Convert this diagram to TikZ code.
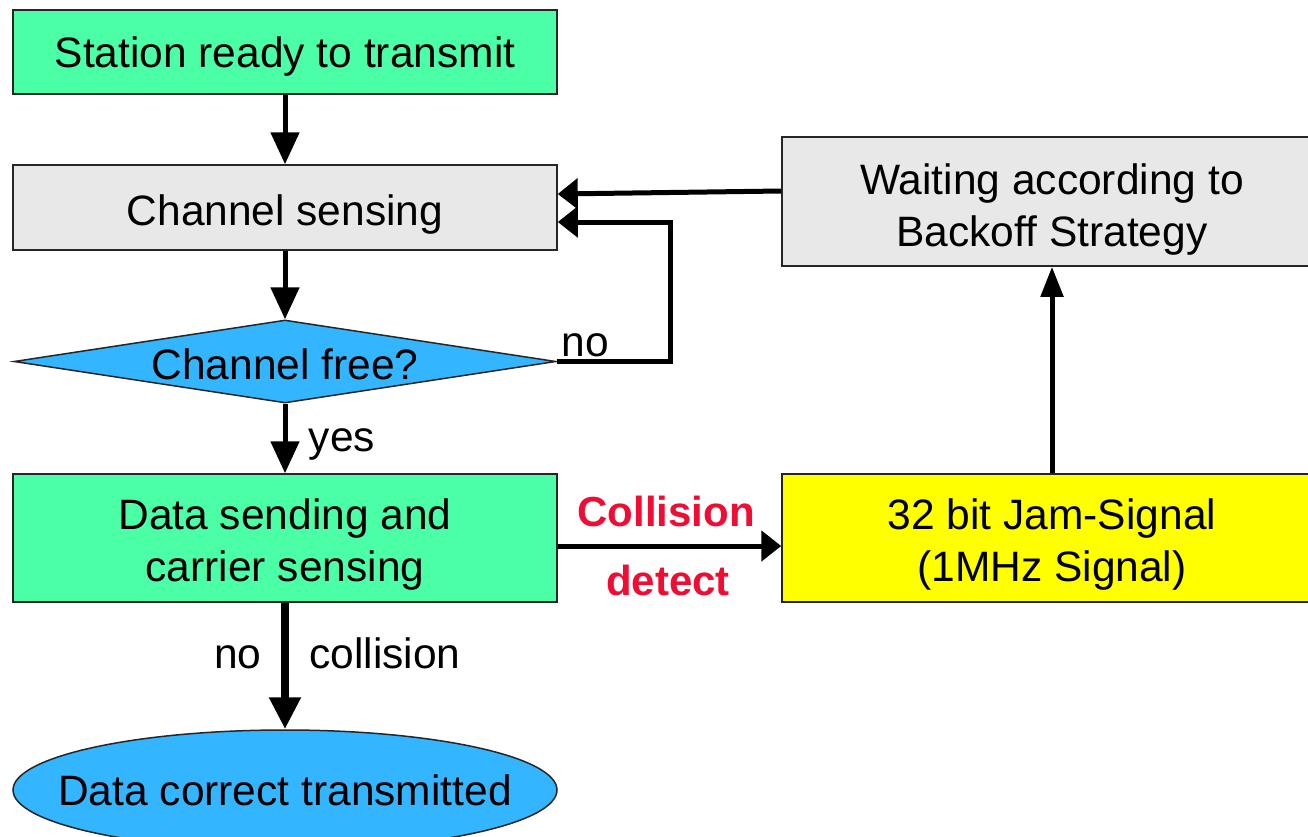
\documentclass[tikz,border=0pt]{standalone}
\usepackage{fontspec}
\setmainfont{Liberation Sans}
\usetikzlibrary{arrows.meta,shapes.geometric}

\definecolor{mint}{RGB}{74,255,165}
\definecolor{panel}{RGB}{232,232,232}
\definecolor{sky}{RGB}{51,181,255}
\definecolor{jam}{RGB}{255,255,0}
\definecolor{alert}{RGB}{240,12,50}

\tikzset{
  txt/.style={font=\fontsize{42.5pt}{52pt}\selectfont, align=center, inner sep=0pt},
  lbl/.style={txt, text height=30pt, text depth=9pt},
  box/.style={draw=black!85, line width=1.5pt, rectangle, inner sep=0pt},
  arr/.style={line width=5pt, -{Triangle[length=32pt,width=28pt]}},
  sidearr/.style={line width=5pt, -{Triangle[length=20pt,width=30pt]}},
  bigarr/.style={line width=8pt, -{Triangle[length=32pt,width=30pt]}},
  warn/.style={txt, font=\fontsize{42pt}{52pt}\selectfont\bfseries, text=alert},
}

\begin{document}
\begin{tikzpicture}[x=1pt,y=-1pt]
\useasboundingbox (0,0) rectangle (1308,836);
\fill[white] (0,0) rectangle (1308,836);
\clip (0,0) rectangle (1308,836);

% left column: shapes
\node[box, fill=mint, minimum width=544, minimum height=84] (station) at (285,52) {};
\node[box, fill=panel, minimum width=544, minimum height=85] (sense) at (285,207.5) {};
\node[diamond, draw=black!85, line width=1.5pt, fill=sky, inner sep=0pt, aspect=6.5,
      minimum width=542, minimum height=83] (free) at (285,361.5) {};
\node[box, fill=mint, minimum width=544, minimum height=128] (data) at (285,538) {};
\node[ellipse, draw=black!85, line width=1.5pt, fill=sky, inner sep=0pt,
      minimum width=544, minimum height=120] (done) at (285,790) {};

% right column: shapes
\node[box, fill=panel, minimum width=540, minimum height=129] (wait) at (1052,201.5) {};
\node[box, fill=jam, minimum width=540, minimum height=128] (jamsig) at (1052,538) {};

% texts inside the shapes
\node[txt] (stationlbl) at ([yshift=-5pt]station.center) {Station ready to transmit};
\node[txt] (senselbl) at ([yshift=-7pt]sense.center) {Channel sensing};
\node[txt] (freelbl) at (285,364) {Channel free?};
\node[txt] (datalbl) at ([yshift=-7pt]data.center) {Data sending and\\carrier sensing};
\node[txt] (donelbl) at (285,790) {Data correct transmitted};
\node[txt] (waitlbl) at ([yshift=-8pt]wait.center) {Waiting according to\\Backoff Strategy};
\node[txt] (jamlbl) at ([yshift=-7pt]jamsig.center) {32 bit Jam-Signal\\(1MHz Signal)};

% main flow
\draw[arr] (station.south) -- (sense.north);
\draw[arr] (sense.south) -- (free.north);
\draw[arr] (free.south) -- (data.north);
\node[txt] (yes) at (342,444) {yes};

\draw[bigarr] (data.south) -- (done.north);
\node[lbl] (nolbl) at (238,658) {no};
\node[lbl] (colllbl) at (385,658) {collision};

% busy channel loops back
\coordinate (loop) at (670,292);
\draw[sidearr] (free.east) -| (loop) |- ([yshift=-14.5pt]sense.east);
\node[txt] (busy) at (585,345) {no};

% collision handling
\draw[sidearr] ([yshift=-8pt]data.east) -- ([yshift=-8pt]jamsig.west);
\node[warn] (coll) at (666,511) {Collision};
\node[warn] (det) at (668,580) {detect};

\draw[line width=5pt, -{Triangle[length=30pt,width=22pt]}] (jamsig.north) -- (wait.south);
\draw[sidearr] ([yshift=10.5pt]wait.west) -- ([yshift=13.5pt]sense.east);
\end{tikzpicture}
\end{document}
